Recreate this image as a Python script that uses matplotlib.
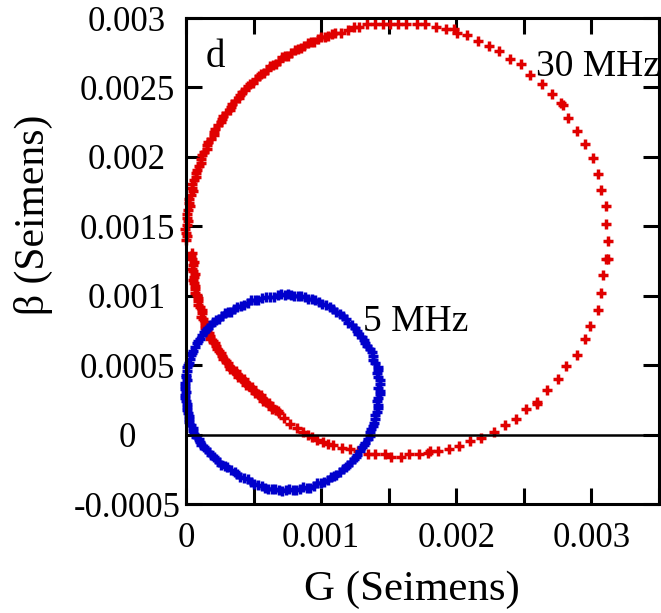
import numpy as np
import matplotlib
matplotlib.use("Agg")
import matplotlib.pyplot as plt

plt.rcParams['font.family'] = ['Liberation Serif', 'DejaVu Serif']

# 30 MHz sweep, G and B in milli-Siemens
g_30 = np.array([
    0.000, 0.006, 0.001, -0.004, 0.004, 0.014, 0.009, 0.006, 0.015, 0.027,
    0.024, 0.022, 0.034, 0.049, 0.046, 0.046, 0.060, 0.077, 0.076, 0.078,
    0.094, 0.113, 0.114, 0.117, 0.135, 0.155, 0.158, 0.163, 0.183, 0.205,
    0.209, 0.216, 0.237, 0.261, 0.267, 0.275, 0.298, 0.323, 0.331, 0.341,
    0.365, 0.392, 0.401, 0.412, 0.438, 0.457, 0.476, 0.496, 0.516, 0.537,
    0.557, 0.578, 0.600, 0.621, 0.643, 0.665, 0.688, 0.710, 0.733, 0.757,
    0.780, 0.804, 0.828, 0.852, 0.876, 0.901, 0.925, 0.950, 0.976, 1.001,
    1.026, 1.052, 1.078,
    1.100, 1.144, 1.196, 1.240, 1.277, 1.336, 1.402, 1.454, 1.513, 1.572,
    1.631, 1.712, 1.771, 1.852, 1.926, 1.985, 2.007, 2.081, 2.162, 2.244,
    2.317, 2.399, 2.480, 2.546, 2.635, 2.708, 2.775, 2.790, 2.827, 2.893,
    2.952, 3.011, 3.048, 3.070, 3.107, 3.107, 3.122, 3.107, 3.122, 3.085,
    3.070, 3.048, 2.989, 2.952, 2.893, 2.812, 2.753, 2.672, 2.598, 2.598,
    2.517, 2.443, 2.362, 2.280, 2.185, 2.103, 2.022, 1.948, 1.867, 1.808,
    1.793, 1.727, 1.653, 1.594, 1.520, 1.476, 1.395, 1.343, 1.269, 1.210,
    1.151, 1.085, 1.048, 1.011, 0.967, 0.930, 0.900, 0.863, 0.819, 0.768,
    0.723, 0.686,
    0.664, 0.627, 0.590, 0.561, 0.531, 0.494, 0.465, 0.435, 0.406, 0.376,
    0.347, 0.317, 0.295, 0.266, 0.244, 0.221, 0.199, 0.177, 0.155, 0.140,
    0.125, 0.118, 0.103, 0.089, 0.081, 0.066, 0.059, 0.059, 0.052, 0.052,
    0.044, 0.044,
    0.680, 0.640, 0.614, 0.570, 0.552, 0.507, 0.485, 0.444, 0.427, 0.385,
    0.368, 0.326, 0.313, 0.274, 0.262, 0.226, 0.217, 0.181, 0.173, 0.141,
    0.140, 0.114, 0.117, 0.089, 0.092, 0.066, 0.070, 0.051, 0.063, 0.044,
    0.056, 0.038,
])
b_30 = np.array([
    1.400, 1.427, 1.454, 1.482, 1.509, 1.536, 1.563, 1.590, 1.617, 1.644,
    1.671, 1.698, 1.724, 1.751, 1.777, 1.804, 1.830, 1.856, 1.882, 1.908,
    1.934, 1.959, 1.984, 2.010, 2.035, 2.059, 2.084, 2.108, 2.132, 2.156,
    2.180, 2.203, 2.227, 2.250, 2.272, 2.295, 2.317, 2.339, 2.360, 2.382,
    2.403, 2.423, 2.444, 2.464, 2.484, 2.510, 2.522, 2.534, 2.559, 2.586,
    2.595, 2.605, 2.629, 2.655, 2.662, 2.671, 2.693, 2.717, 2.723, 2.730,
    2.751, 2.773, 2.777, 2.783, 2.802, 2.823, 2.825, 2.829, 2.846, 2.865,
    2.866, 2.868, 2.884,
    2.890, 2.890, 2.913, 2.934, 2.934, 2.956, 2.956, 2.956, 2.956, 2.956,
    2.956, 2.956, 2.956, 2.934, 2.920, 2.920, 2.891, 2.877, 2.834, 2.798,
    2.762, 2.704, 2.668, 2.589, 2.524, 2.452, 2.387, 2.372, 2.279, 2.185,
    2.092, 1.991, 1.876, 1.761, 1.645, 1.516, 1.394, 1.265, 1.265, 1.149,
    1.020, 0.897, 0.782, 0.688, 0.573, 0.494, 0.400, 0.321, 0.235, 0.220,
    0.185, 0.112, 0.069, 0.019, -0.024, -0.046, -0.082, -0.104, -0.118, -0.118,
    -0.133, -0.140, -0.140, -0.161, -0.161, -0.140, -0.140, -0.140, -0.118, -0.104,
    -0.096, -0.075, -0.068, -0.053, -0.039, -0.017, -0.003, 0.019, 0.048, 0.076,
    0.120, 0.156,
    0.177, 0.206, 0.235, 0.264, 0.292, 0.321, 0.350, 0.379, 0.408, 0.436,
    0.465, 0.494, 0.530, 0.566, 0.602, 0.638, 0.674, 0.710, 0.753, 0.789,
    0.833, 0.876, 0.919, 0.962, 1.005, 1.048, 1.091, 1.135, 1.178, 1.221,
    1.264, 1.307,
    0.170, 0.186, 0.227, 0.244, 0.285, 0.301, 0.343, 0.359, 0.401, 0.417,
    0.458, 0.474, 0.518, 0.542, 0.590, 0.614, 0.662, 0.686, 0.735, 0.765,
    0.813, 0.850, 0.900, 0.936, 0.987, 1.022, 1.072, 1.110, 1.160, 1.196,
    1.245, 1.285,
])

# 5 MHz sweep, G and B in milli-Siemens
g_5 = np.array([
    0.731, 0.679, 0.620, 0.561, 0.509, 0.458, 0.406, 0.354, 0.310, 0.266,
    0.221, 0.185, 0.148, 0.118, 0.089, 0.066, 0.044, 0.030, 0.015, 0.007,
    0.000, -0.007, -0.007, -0.007, 0.000, 0.007, 0.015, 0.022, 0.037, 0.052,
    0.074, 0.103, 0.133, 0.170, 0.207, 0.244, 0.288, 0.332, 0.376, 0.428,
    0.480, 0.531, 0.583, 0.635, 0.686, 0.738, 0.790, 0.841, 0.893, 0.945,
    0.996, 1.048, 1.092, 1.137, 1.181, 1.218, 1.255, 1.284, 1.314, 1.343,
    1.365, 1.380, 1.395, 1.410, 1.417, 1.424, 1.432, 1.432, 1.424, 1.417,
    1.402, 1.380, 1.358, 1.328, 1.299, 1.262, 1.225, 1.181, 1.137, 1.085,
    1.033, 0.982, 0.930, 0.878, 0.827, 0.775,
    0.705, 0.650, 0.590, 0.535, 0.483, 0.432, 0.380, 0.332, 0.288, 0.243,
    0.203, 0.166, 0.133, 0.103, 0.078, 0.055, 0.037, 0.022, 0.011, 0.003,
    0.004, -0.010, 0.000, -0.010, 0.008, 0.005, 0.024, 0.024, 0.050, 0.057,
    0.093, 0.113, 0.146, 0.184, 0.220, 0.261, 0.305, 0.359, 0.397, 0.457,
    0.500, 0.560, 0.609, 0.660, 0.712, 0.764, 0.815, 0.867, 0.919, 0.970,
    1.022, 1.075, 1.110, 1.164, 1.195, 1.242, 1.265, 1.305, 1.324, 1.360,
    1.368, 1.394, 1.397, 1.420, 1.414, 1.436, 1.424, 1.436, 1.413, 1.417,
    1.384, 1.377, 1.336, 1.320, 1.276, 1.250, 1.200, 1.163, 1.108, 1.062,
    1.005, 0.958, 0.902, 0.852, 0.800, 0.753,
])
b_5 = np.array([
    1.005, 1.005, 0.991, 0.983, 0.969, 0.947, 0.926, 0.904, 0.883, 0.854,
    0.825, 0.789, 0.753, 0.717, 0.674, 0.631, 0.588, 0.544, 0.501, 0.458,
    0.415, 0.372, 0.328, 0.285, 0.242, 0.199, 0.156, 0.112, 0.069, 0.026,
    -0.017, -0.053, -0.089, -0.125, -0.161, -0.197, -0.226, -0.255, -0.284, -0.312,
    -0.341, -0.363, -0.384, -0.392, -0.399, -0.399, -0.399, -0.392, -0.384, -0.370,
    -0.348, -0.327, -0.298, -0.269, -0.233, -0.197, -0.161, -0.118, -0.075, -0.032,
    0.019, 0.062, 0.112, 0.163, 0.214, 0.264, 0.314, 0.364, 0.415, 0.465,
    0.515, 0.566, 0.616, 0.659, 0.703, 0.746, 0.789, 0.832, 0.868, 0.904,
    0.933, 0.955, 0.976, 0.991, 0.998, 1.005,
    1.012, 0.990, 0.993, 0.968, 0.966, 0.930, 0.922, 0.886, 0.876, 0.833,
    0.814, 0.764, 0.742, 0.689, 0.660, 0.603, 0.572, 0.516, 0.486, 0.430,
    0.394, 0.350, 0.306, 0.263, 0.221, 0.177, 0.134, 0.090, 0.048, 0.003,
    -0.035, -0.077, -0.104, -0.148, -0.174, -0.217, -0.236, -0.266, -0.303, -0.322,
    -0.357, -0.369, -0.393, -0.390, -0.408, -0.392, -0.402, -0.381, -0.384, -0.352,
    -0.345, -0.306, -0.290, -0.245, -0.221, -0.174, -0.145, -0.093, -0.058, -0.010,
    0.043, 0.084, 0.140, 0.188, 0.239, 0.289, 0.339, 0.390, 0.440, 0.490,
    0.540, 0.593, 0.636, 0.683, 0.722, 0.770, 0.807, 0.854, 0.884, 0.922,
    0.940, 0.970, 0.979, 1.000, 0.996, 1.012,
])

x_ticks = [0, 0.0005, 0.001, 0.0015, 0.002, 0.0025, 0.003, 0.0035]
x_labels = ['0', '', '0.001', '', '0.002', '', '0.003', '']
y_ticks = [-0.0005, 0, 0.0005, 0.001, 0.0015, 0.002, 0.0025, 0.003]
y_labels = ['-0.0005', '0', '0.0005', '0.001', '0.0015', '0.002', '0.0025', '0.003']

fig = plt.figure(figsize=(6.61, 6.13), dpi=100)
ax = fig.add_axes([0.2814, 0.1778, 0.7156, 0.7928])

ax.plot(g_30 * 1e-3, b_30 * 1e-3, linestyle='none', marker='+', ms=6.5, mew=2.5,
        color='#e00000', clip_on=False)
ax.plot(g_5 * 1e-3, b_5 * 1e-3, linestyle='none', marker='+', ms=6.5, mew=2.5,
        color='#0000cc', clip_on=False)
ax.axhline(0, color='black', lw=1.8, zorder=3)

ax.set_xlim(0, 0.0035)
ax.set_ylim(-0.0005, 0.003)
ax.set_xticks(x_ticks)
ax.set_xticklabels(x_labels)
ax.set_yticks(y_ticks)
ax.set_yticklabels(y_labels)
for lab in ax.get_yticklabels():
    lab.set_ha('center')

ax.tick_params(direction='in', top=True, right=True, length=11.5, width=2.2,
               labelsize=25)
ax.tick_params(axis='y', pad=42.5)
ax.tick_params(axis='x', pad=13)
for sp in ax.spines.values():
    sp.set_linewidth(2.2)

ax.set_xlabel('G (Seimens)', fontsize=31, va='center')
ax.xaxis.set_label_coords(0.478, -0.177)
ax.set_ylabel('β (Seimens)', fontsize=30, va='center')
ax.yaxis.set_label_coords(-0.3235, 0.596)

ax.text(0.063, 0.899, 'd', transform=ax.transAxes, fontsize=28,
        ha='center', va='baseline')
ax.text(0.871, 0.881, '30 MHz', transform=ax.transAxes, fontsize=27,
        ha='center', va='baseline', zorder=5)
ax.text(0.486, 0.356, '5 MHz', transform=ax.transAxes, fontsize=27,
        ha='center', va='baseline', zorder=5)

fig.savefig('out.png', dpi=100)
